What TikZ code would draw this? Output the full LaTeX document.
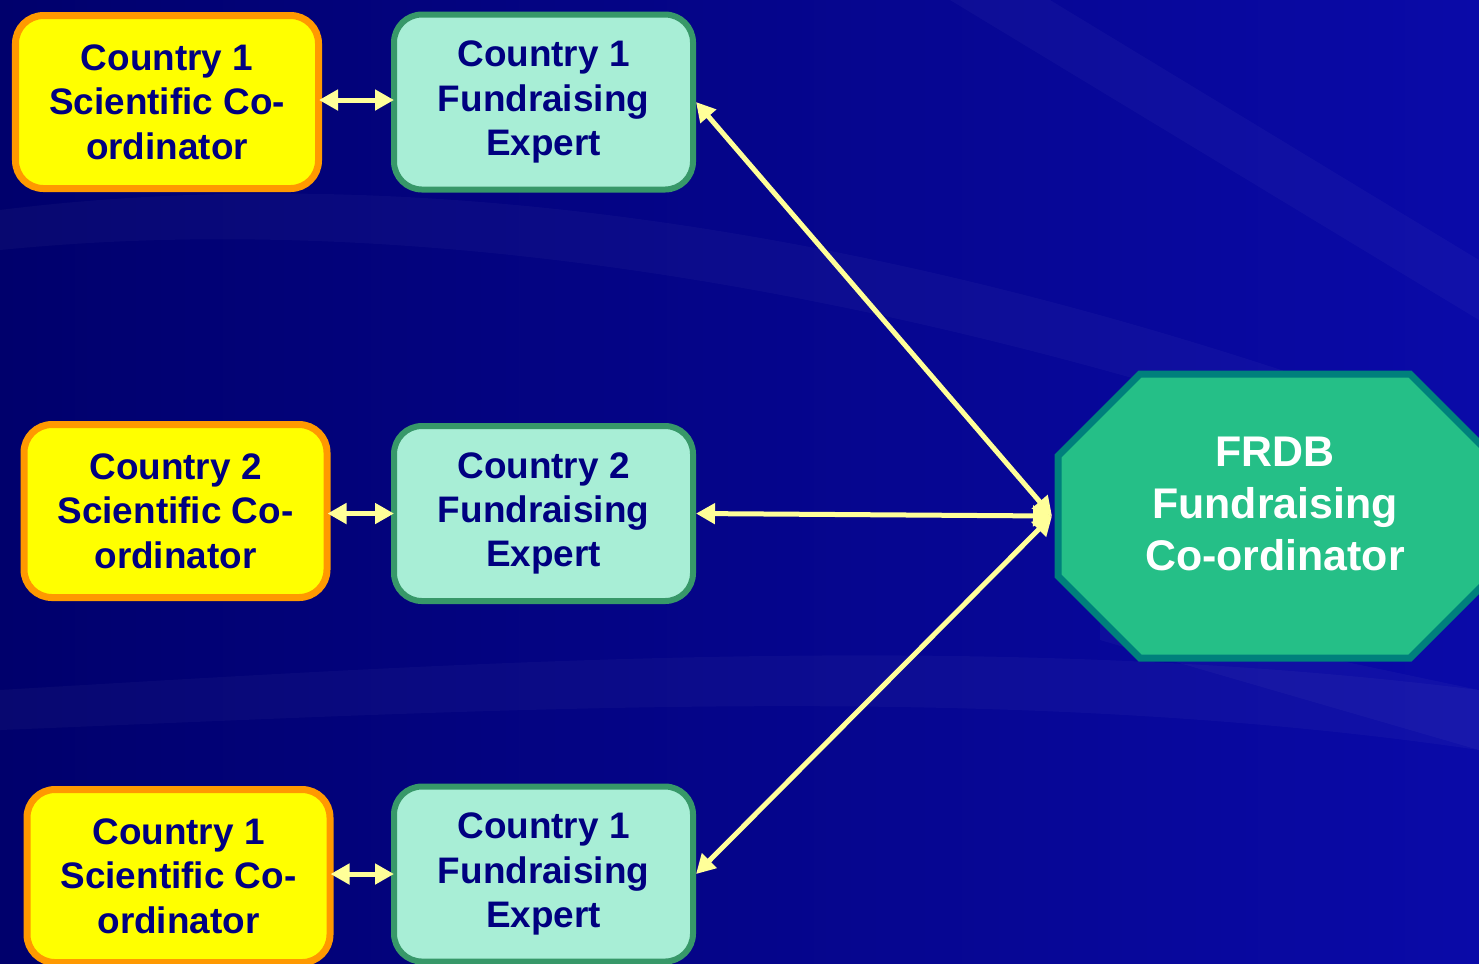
\documentclass[tikz,border=0pt]{standalone}
\usepackage{fontspec}
\setmainfont{Liberation Sans}
\usepackage{xcolor}
\usetikzlibrary{arrows.meta}
\definecolor{bgDark}{HTML}{00006C}
\definecolor{bgLight}{HTML}{0A0AA8}
\definecolor{sciFill}{HTML}{FFFF00}
\definecolor{sciLine}{HTML}{FF9900}
\definecolor{fundFill}{HTML}{A8EED6}
\definecolor{fundLine}{HTML}{379869}
\definecolor{octFill}{HTML}{25BF87}
\definecolor{octLine}{HTML}{00807C}
\definecolor{navyText}{HTML}{000080}
\definecolor{arrowYellow}{HTML}{FFFF99}
\tikzset{
	boxText/.style={font=\fontsize{10.5}{12.6}\selectfont\bfseries,text=navyText,align=center},
	sciBox/.style={boxText,draw=sciLine,fill=sciFill,line width=0.07cm,rounded corners=0.28cm,
		minimum width=3.03cm,minimum height=1.73cm,inner sep=0pt},
	fundBox/.style={boxText,draw=fundLine,fill=fundFill,line width=0.06cm,rounded corners=0.28cm,
		minimum width=2.99cm,minimum height=1.75cm,inner sep=0pt},
	linkArrow/.style={draw=arrowYellow,line width=0.05cm,{Triangle[length=0.19cm,width=0.2cm]}-{Triangle[length=0.19cm,width=0.2cm]}},
	streak/.style={fill=white,opacity=0.03}
}

\begin{document}
\begin{tikzpicture}
	% background
	\shade[left color=bgDark,right color=bgLight] (0,0) rectangle (14.79,-9.63);
	\useasboundingbox (0,0) rectangle (14.79,-9.63);
	\fill[streak] (0,-2.1) .. controls (4,-1.6) and (9,-2.2) .. (14.79,-4.4) -- (14.79,-4.9) .. controls (9,-2.8) and (4,-2.1) .. (0,-2.5) -- cycle;
	\fill[streak] (0,-6.9) .. controls (5,-6.6) and (10,-6.3) .. (14.79,-6.9) -- (14.79,-7.5) .. controls (10,-6.8) and (5,-7.1) .. (0,-7.3) -- cycle;
	\fill[streak] (11,-6.1) -- (14.79,-6.9) -- (14.79,-7.5) -- (11,-6.4) -- cycle;
	\fill[streak] (9.5,0) -- (10.5,0) -- (14.79,-2.6) -- (14.79,-3.2) -- cycle;
	% country boxes
	\node[sciBox] (sci1) at (1.67,-1.02) {Country 1\\Scientific Co-\\ordinator};
	\node[sciBox] (sci2) at (1.755,-5.11) {Country 2\\Scientific Co-\\ordinator};
	\node[sciBox] (sci3) at (1.785,-8.76) {Country 1\\Scientific Co-\\ordinator};
	\node[fundBox] (fund1) at (5.435,-1.02) {Country 1\\Fundraising\\Expert};
	\node[fundBox] (fund2) at (5.435,-5.135) {Country 2\\Fundraising\\Expert};
	\node[fundBox] (fund3) at (5.435,-8.74) {Country 1\\Fundraising\\Expert};
	% FRDB octagon
	\draw[draw=octLine,fill=octFill,line width=0.07cm]
		(11.40,-3.74) -- (14.10,-3.74) -- (14.92,-4.56) -- (14.92,-5.76)
		-- (14.10,-6.58) -- (11.40,-6.58) -- (10.58,-5.76) -- (10.58,-4.56) -- cycle;
	\node[font=\fontsize{12.2}{14.8}\selectfont\bfseries,text=white,align=center] (frdb) at (12.75,-5.04)
		{FRDB\\Fundraising\\Co-ordinator};
	\coordinate (hub) at (10.52,-5.16);
	% links
	\draw[linkArrow,shorten <=-0.03cm,shorten >=-0.03cm] (sci1.east |- 0,-1.0) -- (fund1.west |- 0,-1.0);
	\draw[linkArrow,shorten <=-0.03cm,shorten >=-0.03cm] (sci2.east |- fund2) -- (fund2);
	\draw[linkArrow,shorten <=-0.03cm,shorten >=-0.03cm] (sci3.east |- fund3) -- (fund3);
	\draw[linkArrow] (fund1.east) -- (hub);
	\draw[linkArrow] (fund2.east) -- (hub);
	\draw[linkArrow] (fund3.east) -- (hub);
\end{tikzpicture}
\end{document}
